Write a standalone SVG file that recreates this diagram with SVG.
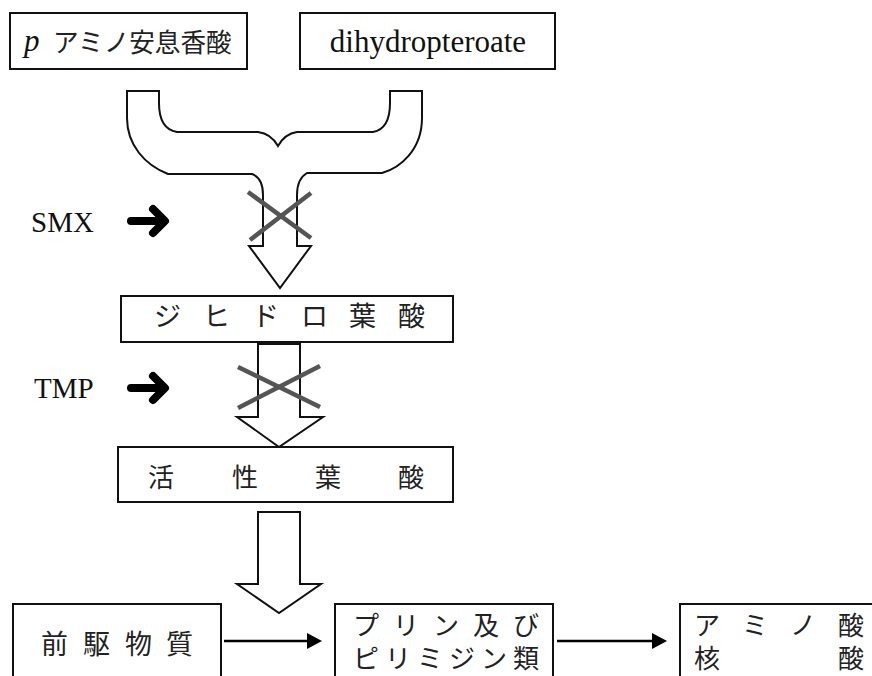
<svg xmlns="http://www.w3.org/2000/svg" width="872" height="676" viewBox="0 0 872 676">
<style>
.box{fill:#fff;stroke:#111;stroke-width:2}
.big{fill:#fff;stroke:#111;stroke-width:2;stroke-linejoin:miter}
.jp{font-family:"Liberation Serif","Noto Sans CJK JP",serif;font-weight:400;fill:#222}
.lat{font-family:"Liberation Serif",serif;fill:#111}
.cross{stroke:#555;stroke-width:4.5;stroke-linecap:butt}
.inh{fill:none;stroke:#000;stroke-width:8;stroke-linecap:round;stroke-linejoin:round}
.line{stroke:#000;stroke-width:2.5}
</style>
<rect width="872" height="676" fill="#fff"/>
<g id="paba">
<rect class="box" x="10" y="13" width="237" height="56"/>
<text class="lat" x="24" y="51" font-size="31" font-style="italic">p</text>
<text class="jp" x="53" y="52" font-size="25.6">アミノ安息香酸</text>
</g>
<g id="dihydropteroate">
<rect class="box" x="300" y="13" width="255" height="56"/>
<text class="lat" x="428" y="52" font-size="31" text-anchor="middle">dihydropteroate</text>
</g>
<g id="connectors">
<path class="big" d="M127,91 H159 V103 C159,120 165,130 177,132 H258 C266,133 273,137 278,146 C283,137 290,133 297,132 H373 C384,130 390,120 390,103 V91 H422 V118 C422,150 400,168 382,173 H307 C300,177 297,185 297,195 V246 H311 L280,288 L249,246 H263 V195 C263,185 260,177 252,174 H168 C145,165 127,145 127,118 Z"/>
<line class="cross" x1="248" y1="192" x2="311" y2="238"/>
<line class="cross" x1="311" y1="193" x2="250" y2="240"/>
<path class="big" d="M258,344 H300 V417 H323 L279,447 L237,417 H258 Z"/>
<line class="cross" x1="238" y1="367" x2="320" y2="407"/>
<line class="cross" x1="320" y1="366" x2="238" y2="408"/>
<path class="big" d="M258,512 H300 V584 H321 L279,613 L237,584 H258 Z"/>
<line class="line" x1="224" y1="641" x2="309" y2="641"/>
<polygon points="307,633 322,641 307,649" fill="#000"/>
<line class="line" x1="557" y1="641" x2="654" y2="641"/>
<polygon points="652,633 667,641 652,649" fill="#000"/>
</g>
<g id="smx">
<text class="lat" x="31" y="232" font-size="29">SMX</text>
<path class="inh" d="M131,221 H162 M153,209 L165,221 L153,233"/>
</g>
<g id="tmp">
<text class="lat" x="34" y="398" font-size="29">TMP</text>
<path class="inh" d="M131,388 H162 M153,376 L165,388 L153,400"/>
</g>
<g id="dihydrofolate">
<rect class="box" x="121" y="296" width="332" height="46"/>
<text class="jp" y="326" font-size="27" x="154 203 252 301 349 398">ジヒドロ葉酸</text>
</g>
<g id="activefolate">
<rect class="box" x="118" y="447" width="335" height="55"/>
<text class="jp" y="487" font-size="26" x="148 232 315 398">活性葉酸</text>
</g>
<g id="precursor">
<rect class="box" x="13" y="604" width="208" height="90"/>
<text class="jp" y="654" font-size="27" x="41 83 125 166">前駆物質</text>
</g>
<g id="purine">
<rect class="box" x="335" y="604" width="218" height="90"/>
<text class="jp" y="635" font-size="26" x="353 393 433 473 513">プリン及び</text>
<text class="jp" y="668" font-size="26" x="353 385 417 449 481 513">ピリミジン類</text>
</g>
<g id="aminoacid">
<rect class="box" x="680" y="604" width="210" height="90"/>
<text class="jp" y="635" font-size="26" x="694 742 790 838">アミノ酸</text>
<text class="jp" y="668" font-size="26" x="694 838">核酸</text>
</g>
</svg>
